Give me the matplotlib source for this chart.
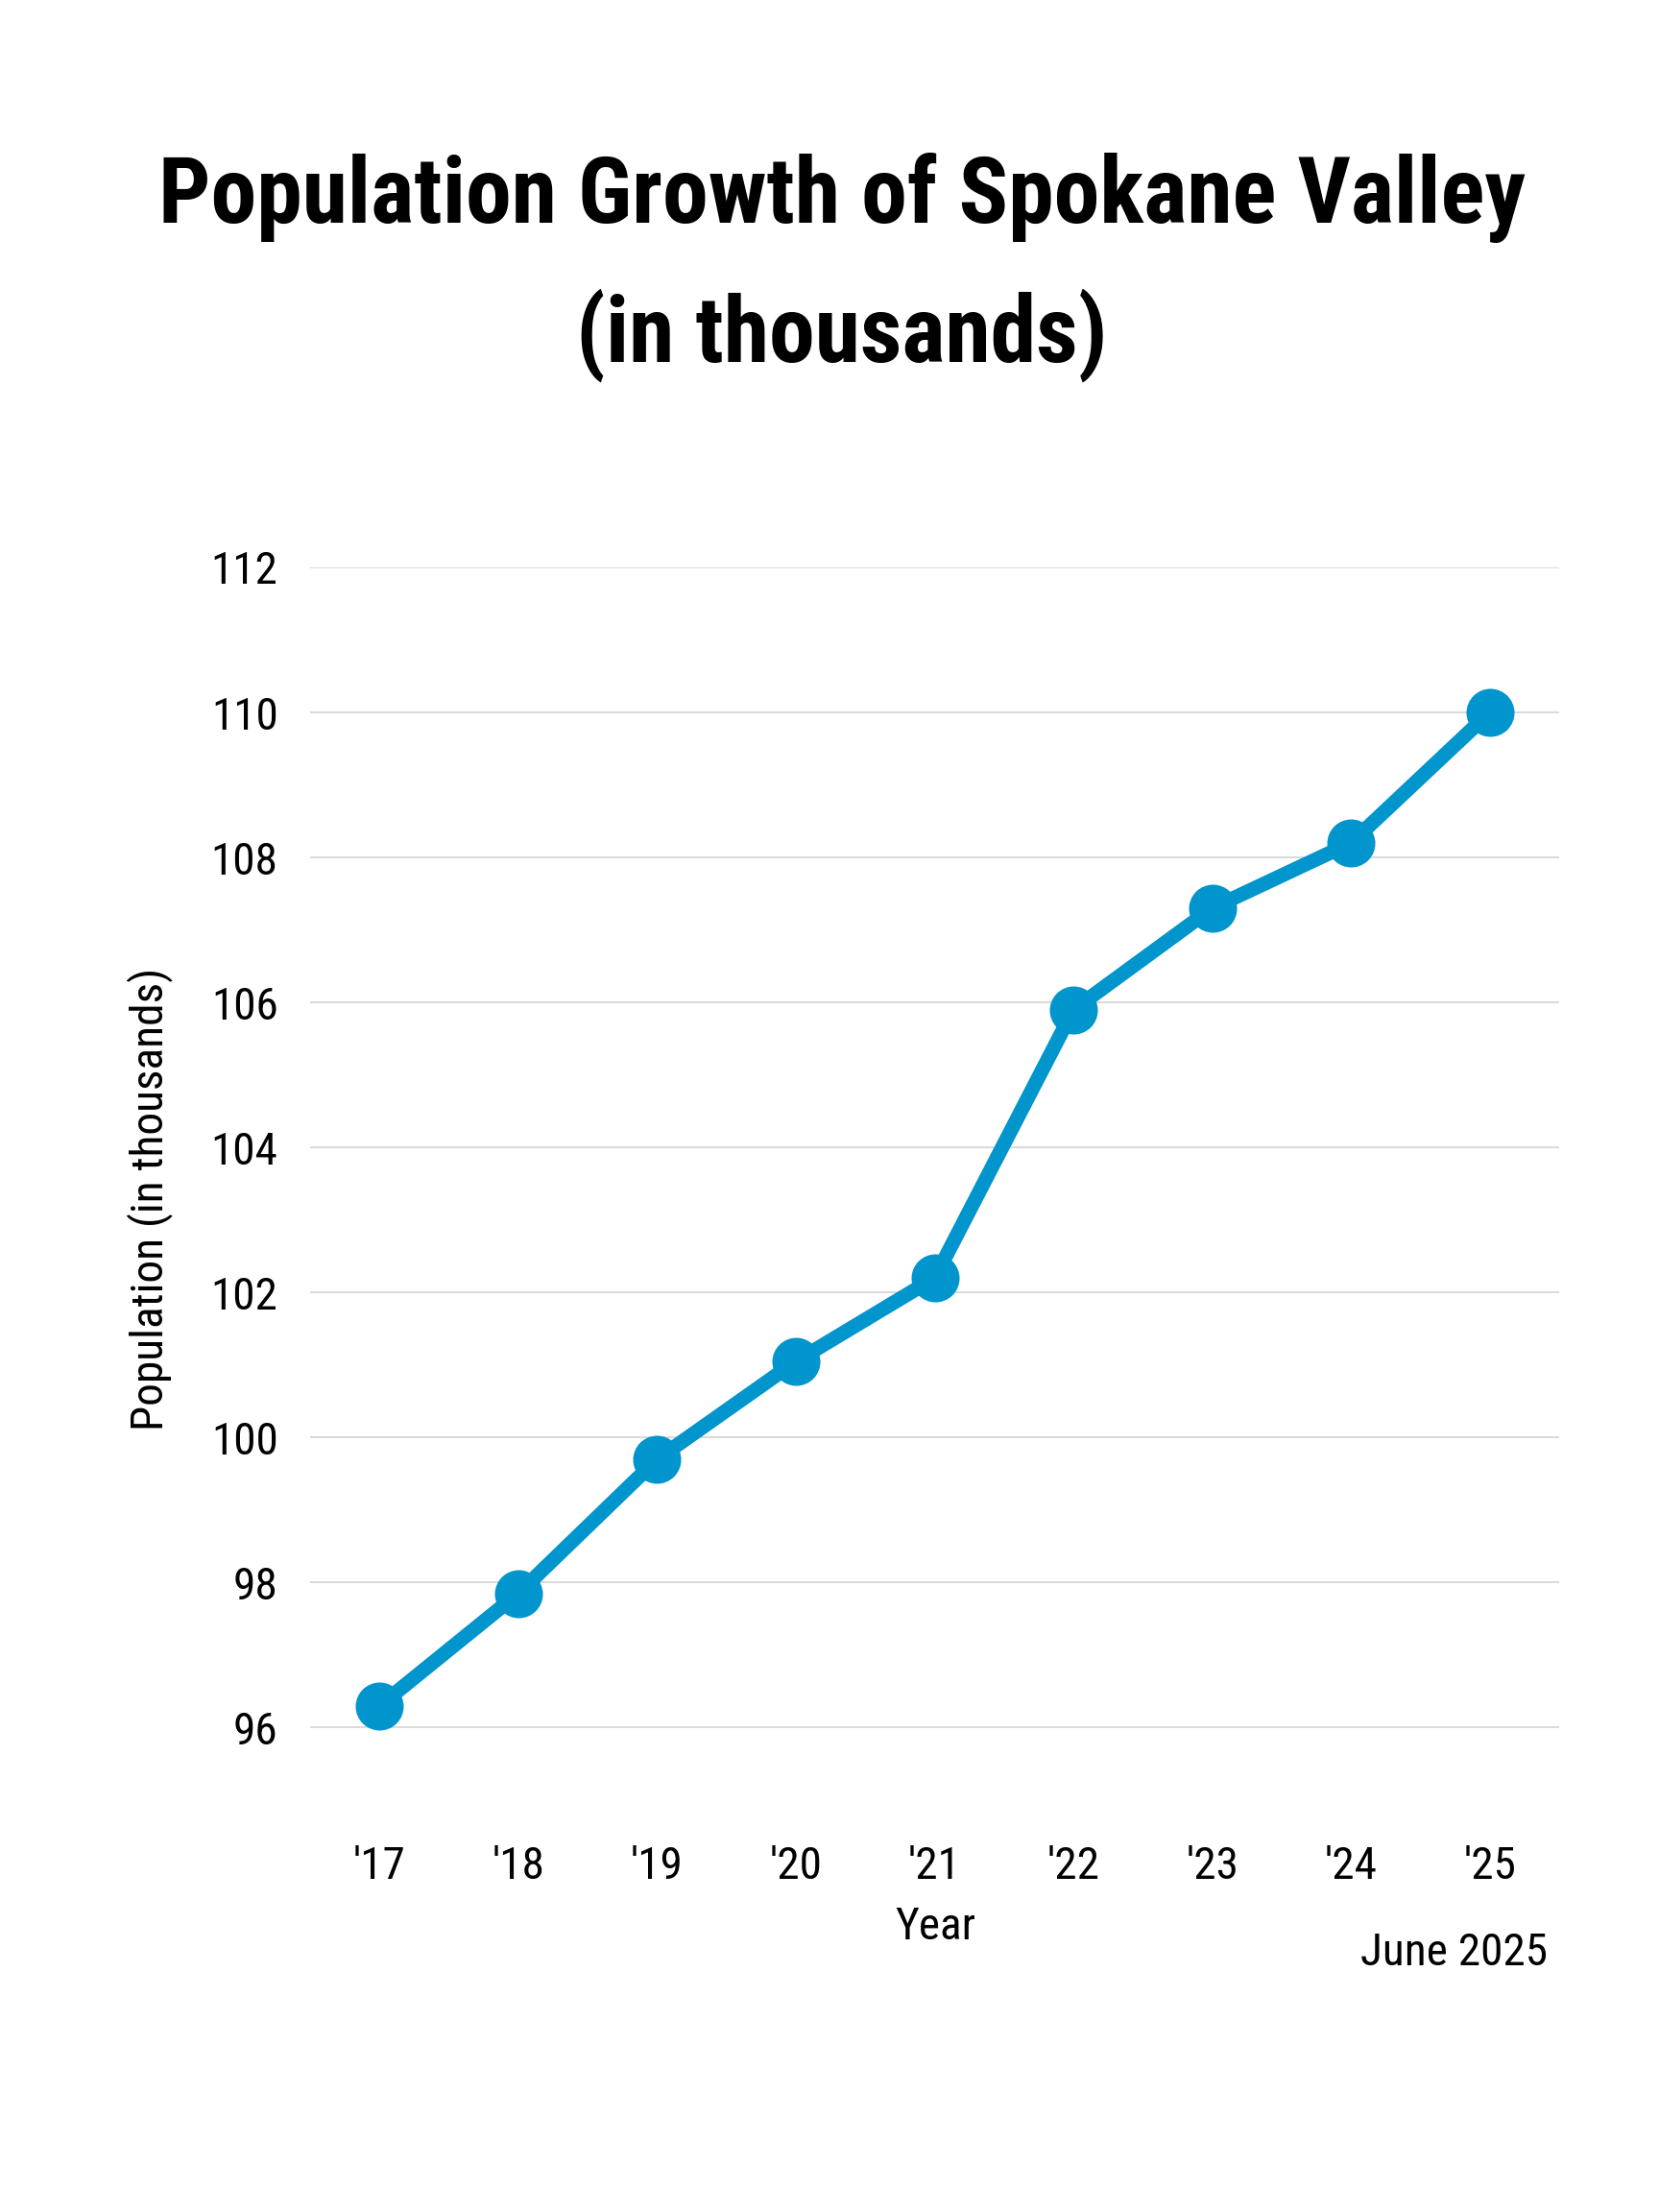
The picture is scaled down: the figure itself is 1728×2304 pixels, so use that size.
import matplotlib
matplotlib.use("Agg")
import matplotlib.pyplot as plt

years = ["'17", "'18", "'19", "'20", "'21", "'22", "'23", "'24", "'25"]
population = [96.3, 97.85, 99.7, 101.05, 102.2, 105.9, 107.3, 108.2, 110.0]
yticks = [96, 98, 100, 102, 104, 106, 108, 110, 112]

plt.rcParams["font.family"] = ["Roboto Condensed", "Archivo Narrow", "DejaVu Sans"]

W, H = 1728, 2304
fig = plt.figure(figsize=(W / 200, H / 200), dpi=200)
# axes placed in pixels: x 323..1624, y 95 -> 1875, 112 -> 591
y_top = 591
y_bot = 1875
ax = fig.add_axes([323 / W, 1 - y_bot / H, (1624 - 323) / W, (y_bot - y_top) / H])

x = range(len(years))
ax.plot(x, population, color="#0095cc", linewidth=5.4, marker="o",
        markersize=17, solid_capstyle="round", zorder=3)

ax.set_xlim(-0.5, len(years) - 0.5)
ax.set_ylim(95, 112)
ax.set_yticks(yticks)
ax.set_xticks(list(x))
ax.set_xticklabels(years)
ax.grid(axis="y", color="#d9d9d9", linewidth=0.7)
ax.set_axisbelow(True)
for s in ax.spines.values():
    s.set_visible(False)
ax.tick_params(axis="both", length=0, labelsize=17)
ax.tick_params(axis="y", pad=12)
ax.tick_params(axis="x", pad=17)

fig.text(974 / W, 1 - 2007 / H, "Year", ha="center", va="center", fontsize=17)
fig.text(1612 / W, 1 - 2034 / H, "June 2025", ha="right", va="center", fontsize=17)
fig.text(156 / W, 1 - 1249 / H, "Population (in thousands)", rotation=90,
         ha="center", va="center", fontsize=17)

fig.text(877 / W, 1 - 206 / H, "Population Growth of Spokane Valley",
         ha="center", va="center", fontsize=34.5, fontweight="bold")
fig.text(877 / W, 1 - 349 / H, "(in thousands)",
         ha="center", va="center", fontsize=34.5, fontweight="bold")

fig.savefig("out.png", dpi=200, facecolor="white")
